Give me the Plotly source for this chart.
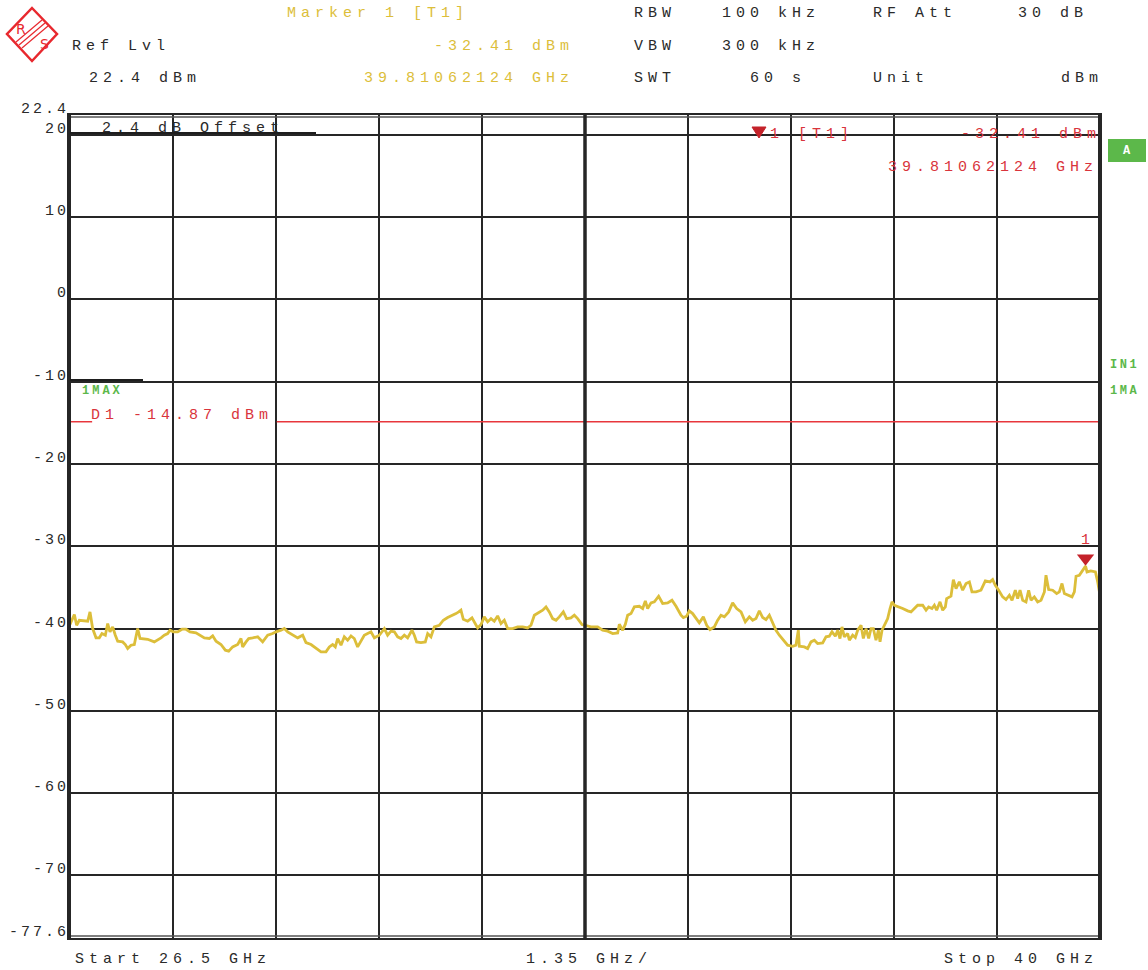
import plotly.graph_objects as go

# canvas / plot-area geometry (pixels)
W, H = 1148, 970
L, R, T, B = 70, 48, 115, 32
PW, PH = W - L - R, H - T - B

F_START, F_STOP = 26.5, 40.0
F_DIV = 1.35
REF_TOP, REF_BOTTOM = 22.4, -77.6

# trace 1 (max hold)
freq_ghz = [
    26.500, 26.557, 26.587, 26.622, 26.732, 26.762, 26.797, 26.841, 26.884, 26.919,
    26.963, 26.994, 27.024, 27.059, 27.094, 27.125, 27.190, 27.225, 27.256, 27.299,
    27.343, 27.387, 27.418, 27.518, 27.605, 27.649, 27.693, 27.736, 27.780, 27.811,
    27.854, 27.911, 27.968, 28.020, 28.073, 28.151, 28.217, 28.261, 28.326, 28.370,
    28.414, 28.479, 28.536, 28.580, 28.632, 28.698, 28.741, 28.763, 28.807, 28.842,
    28.894, 28.960, 29.025, 29.091, 29.156, 29.200, 29.266, 29.309, 29.353, 29.418,
    29.484, 29.550, 29.593, 29.659, 29.724, 29.790, 29.855,
    29.899, 29.942, 29.977, 30.008, 30.052, 30.095, 30.139, 30.183, 30.226, 30.270,
    30.314, 30.357, 30.401, 30.445, 30.489, 30.554, 30.620, 30.663, 30.707, 30.751,
    30.794, 30.838, 30.882, 30.925, 30.982, 31.013, 31.043, 31.100, 31.157, 31.188,
    31.231, 31.275, 31.340, 31.393, 31.450, 31.506, 31.559, 31.594, 31.624, 31.655,
    31.712, 31.769, 31.812, 31.843, 31.887, 31.930, 31.974, 32.018, 32.061, 32.105,
    32.149, 32.192, 32.236, 32.302, 32.367, 32.433, 32.498, 32.542, 32.586, 32.651,
    32.695, 32.739, 32.782, 32.826, 32.870, 32.913, 32.966, 33.009, 33.066, 33.110,
    33.154, 33.210, 33.263,
    33.329, 33.416, 33.481, 33.547, 33.613, 33.678, 33.700, 33.744, 33.779, 33.809,
    33.853, 33.897, 33.962, 34.006, 34.041, 34.071, 34.115, 34.159, 34.215, 34.268,
    34.333, 34.390, 34.443, 34.508, 34.539, 34.582, 34.617, 34.661, 34.705, 34.748,
    34.801, 34.845, 34.888, 34.945, 34.989, 35.032, 35.076, 35.133, 35.185, 35.238,
    35.295, 35.351, 35.404, 35.448, 35.491, 35.535, 35.579, 35.622, 35.666, 35.701,
    35.753, 35.797, 35.863, 35.906, 35.972, 36.015, 36.046, 36.059, 36.125, 36.168,
    36.212, 36.256, 36.299, 36.365, 36.409, 36.452, 36.487, 36.531, 36.562, 36.592,
    36.618, 36.649, 36.693,
    36.715, 36.758, 36.793, 36.824, 36.868, 36.898, 36.933, 36.968, 36.999, 37.029,
    37.064, 37.095, 37.117, 37.143, 37.187, 37.217, 37.248, 37.274, 37.305, 37.370,
    37.414, 37.479, 37.523, 37.567, 37.610, 37.676, 37.720, 37.754, 37.798, 37.829,
    37.859, 37.903, 37.938, 37.973, 37.990, 38.047, 38.078, 38.113, 38.156, 38.200,
    38.244, 38.288, 38.322, 38.375, 38.440, 38.497, 38.558, 38.593, 38.628, 38.672,
    38.724, 38.768, 38.812, 38.847, 38.890, 38.921, 38.952, 38.987, 39.030, 39.065,
    39.096, 39.139, 39.183, 39.227, 39.271, 39.292, 39.327, 39.380, 39.432, 39.467,
    39.502, 39.533, 39.576, 39.633, 39.664, 39.686, 39.729, 39.8106, 39.830, 39.880,
    39.940, 39.970, 40.000,
]
level_dbm = [
    -39.51, -38.30, -39.60, -38.99, -39.11, -37.98, -40.00, -41.13, -41.13, -40.61,
    -40.81, -39.39, -40.40, -39.80, -40.81, -41.54, -41.62, -41.94, -42.43, -42.02,
    -41.94, -40.00, -41.21, -41.30, -41.62, -41.42, -41.13, -40.81, -40.61, -40.20,
    -40.40, -40.40, -40.08, -40.08, -40.40, -40.53, -40.89, -41.13, -41.21, -40.89,
    -41.54, -41.94, -42.63, -42.75, -42.23, -41.94, -41.21, -42.23, -41.62, -41.21,
    -41.13, -41.01, -41.62, -40.81, -40.61, -40.40, -40.20, -40.00, -40.40, -40.81,
    -41.13, -40.81, -41.70, -41.94, -42.43, -42.83, -42.83,
    -42.23, -41.94, -42.23, -41.21, -42.02, -41.01, -41.42, -40.89, -41.21, -42.23,
    -41.42, -40.81, -40.61, -40.40, -41.13, -40.81, -40.00, -40.81, -40.32, -40.40,
    -41.01, -41.21, -40.81, -41.13, -40.20, -40.81, -41.62, -41.70, -41.62, -40.61,
    -41.01, -39.80, -39.60, -38.99, -38.66, -38.46, -38.18, -37.98, -37.77, -38.87,
    -39.11, -38.70, -39.39, -39.92, -39.51, -38.58, -39.19, -38.79, -39.11, -38.46,
    -39.39, -38.99, -40.00, -40.00, -39.80, -39.80, -39.92, -39.60, -38.38, -37.98,
    -37.77, -37.37, -37.98, -38.79, -38.99, -38.58, -37.98, -38.79, -38.70, -38.38,
    -38.79, -39.51, -39.68,
    -39.80, -39.80, -40.20, -40.32, -40.61, -40.53, -39.47, -40.20, -39.47, -38.38,
    -38.18, -37.37, -37.29, -37.57, -36.64, -37.57, -36.88, -36.76, -36.07, -36.96,
    -36.88, -36.56, -37.29, -38.38, -38.66, -38.50, -37.85, -38.18, -38.79, -39.31,
    -38.58, -39.60, -40.12, -39.80, -38.99, -38.38, -38.58, -37.98, -36.88, -37.57,
    -37.98, -39.19, -38.58, -38.99, -38.79, -37.85, -38.66, -38.91, -38.38, -39.19,
    -40.20, -40.81, -41.54, -42.02, -42.15, -42.02, -40.20, -42.15, -42.23, -42.43,
    -41.62, -41.42, -41.82, -41.74, -41.01, -40.93, -40.40, -40.93, -40.20, -41.21,
    -39.80, -41.01, -40.61,
    -41.42, -40.81, -41.09, -40.20, -39.60, -41.21, -40.00, -41.21, -40.00, -40.00,
    -41.42, -40.20, -41.62, -40.20, -39.39, -38.79, -37.57, -36.76, -37.17, -37.37,
    -37.57, -37.85, -37.98, -37.57, -37.17, -37.17, -37.77, -37.37, -37.57, -37.17,
    -37.77, -36.76, -37.77, -37.37, -36.36, -36.07, -34.05, -35.14, -34.33, -35.34,
    -34.53, -34.33, -35.55, -35.55, -35.34, -34.21, -34.33, -34.05, -34.74, -35.34,
    -36.15, -36.48, -35.95, -36.56, -35.34, -36.36, -35.34, -36.56, -36.76, -35.34,
    -36.56, -36.15, -36.76, -36.56, -35.55, -33.52, -35.26, -35.34, -35.75, -35.55,
    -34.53, -35.75, -35.95, -36.15, -35.55, -33.64, -33.52, -32.41, -33.12, -33.00,
    -33.12, -34.33, -35.95,
]

marker_freq = 39.81062124
marker_level = -32.41
display_line = -14.87

y_grid = [20, 10, 0, -10, -20, -30, -40, -50, -60, -70]
y_tick_vals = [22.4, 20, 10, 0, -10, -20, -30, -40, -50, -60, -70, -77.6]
y_tick_text = ["22.4", "20", "10", "0", "-10", "-20", "-30", "-40", "-50", "-60", "-70", "-77.6"]

FONT = "Liberation Mono"
INK = "#2a2a2a"
YEL = "#dcbe3a"
RED = "#d9343c"
RED_LINE = "#e8363c"
GRN = "#5cb84a"
GRID = "#262626"


def px(x):
    return (x - L) / PW


def py(y):
    return (H - B - y) / PH


def sp(txt, ls):
    return f'<span style="letter-spacing:{ls}px">{txt}</span>'


fig = go.Figure()


def label(txt, x, y, color=INK, size=15, anchor="left", ls=5.0, bold=False):
    t = sp(txt, ls)
    if bold:
        t = f"<b>{t}</b>"
    fig.add_annotation(text=t, x=px(x), y=py(y), xref="paper", yref="paper",
                       xanchor=anchor, yanchor="middle", showarrow=False,
                       xshift=ls if anchor == "right" else 0,
                       font=dict(family=FONT, size=size, color=color))


def seg(x0, y0, x1, y1, color=GRID, width=2):
    fig.add_shape(type="line", xref="paper", yref="paper",
                  x0=px(x0), y0=py(y0), x1=px(x1), y1=py(y1),
                  line=dict(color=color, width=width), layer="above")


# ---- trace
fig.add_trace(go.Scatter(x=freq_ghz, y=level_dbm, mode="lines",
                         line=dict(color=YEL, width=2.8), showlegend=False,
                         hoverinfo="x+y"))

# display line D1, broken where its label sits
fig.add_shape(type="line", xref="x", yref="y", x0=F_START, x1=26.79,
              y0=display_line, y1=display_line, line=dict(color=RED_LINE, width=1.5))
fig.add_shape(type="line", xref="x", yref="y", x0=29.21, x1=F_STOP,
              y0=display_line, y1=display_line, line=dict(color=RED_LINE, width=1.5))

# marker 1
fig.add_trace(go.Scatter(x=[marker_freq], y=[marker_level + 0.95], mode="markers+text",
                         marker=dict(symbol="triangle-down", size=15, color="#c4222a"),
                         text=["1"], textposition="top center",
                         textfont=dict(family=FONT, size=15, color=RED),
                         showlegend=False, hoverinfo="skip"))

# ---- frame details
seg(L, T - 1, L + PW + 2, T - 1, width=2)
seg(L, T + 2, L + PW, T + 2, color="#555", width=1.5)
seg(L, H - B + 1, L + PW + 2, H - B + 1, width=2)
seg(L, H - B - 2, L + PW, H - B - 2, color="#555", width=1.5)
seg(L - 1, T - 2, L - 1, H - B + 2, width=4)
seg(L + PW, T - 2, L + PW, H - B + 2, width=4)
seg(L + PW / 2, T, L + PW / 2, H - B, width=3.5)
seg(L, 133, 316, 133, color="#1e1e1e", width=2)
seg(L, 380, 143, 380, color="#1e1e1e", width=2)

# ---- header
label("Marker 1 [T1]", 285, 13, color=YEL)
label("-32.41 dBm", 571, 46, color=YEL, anchor="right")
label("39.81062124 GHz", 571, 79, color=YEL, anchor="right")
label("Ref Lvl", 70, 46)
label("22.4 dBm", 87, 79)
label("RBW", 632, 13)
label("100 kHz", 720, 13)
label("RF Att", 871, 13)
label("30 dB", 1085, 13, anchor="right")
label("VBW", 632, 46)
label("300 kHz", 720, 46)
label("SWT", 632, 79)
label("60 s", 748, 79)
label("Unit", 871, 79)
label("dBm", 1100, 79, anchor="right")

# ---- in-screen annotations
label("2.4 dB Offset", 100, 129)
fig.add_shape(type="path", xref="paper", yref="paper",
              path=f"M {px(752)} {py(127)} L {px(766)} {py(127)} L {px(759)} {py(138)} Z",
              fillcolor="#c4222a", line=dict(color="#c4222a", width=1))
label("1 [T1]", 768, 135, color=RED)
label("-32.41 dBm", 1098, 135, color=RED, anchor="right")
label("39.81062124 GHz", 1095, 168, color=RED, anchor="right")
label("D1 -14.87 dBm", 89, 415, color=RED)
label("1MAX", 80, 391, color=GRN, size=12, ls=3, bold=True)

# right side status
fig.add_shape(type="rect", xref="paper", yref="paper",
              x0=px(1108), x1=px(1146), y0=py(139), y1=py(162),
              fillcolor=GRN, line=dict(width=0))
fig.add_annotation(text="<b>A</b>", x=px(1127), y=py(150.5), xref="paper", yref="paper",
                   xanchor="center", yanchor="middle",
                   showarrow=False, font=dict(family=FONT, size=12, color="white"))
label("IN1", 1108, 365, color=GRN, size=12, ls=2.6, bold=True)
label("1MA", 1108, 391, color=GRN, size=12, ls=2.6, bold=True)

# ---- y tick labels (sit on their grid line)
for v, t in zip(y_tick_vals, y_tick_text):
    fig.add_annotation(text=sp(t, 3.0), x=0, xref="paper", y=v, yref="y",
                       xanchor="right", yanchor="bottom", xshift=1, yshift=-5,
                       showarrow=False, font=dict(family=FONT, size=15, color=INK))

# ---- bottom
label("Start 26.5 GHz", 73, 959)
label(f"{F_DIV} GHz/", 524, 959)
label("Stop 40 GHz", 1095, 959, anchor="right")

# ---- R&S logo
LR = "#e8282e"
fig.add_shape(type="path", xref="paper", yref="paper",
              path=(f"M {px(32)} {py(8)} L {px(57)} {py(34)} L {px(32)} {py(61)} "
                    f"L {px(7)} {py(34)} Z"),
              line=dict(color=LR, width=2.5))
for d in (-3, 0, 3):
    seg(19 + d, 45 + d, 45 + d, 23 + d, color=LR, width=1.2)
fig.add_annotation(text="R", x=px(21), y=py(29), xref="paper", yref="paper",
                   xanchor="center", yanchor="middle",
                   showarrow=False, font=dict(family="DejaVu Sans", size=14, color=LR))
fig.add_annotation(text="S", x=px(44), y=py(44), xref="paper", yref="paper",
                   xanchor="center", yanchor="middle",
                   showarrow=False, font=dict(family="DejaVu Sans", size=14, color=LR))

fig.update_layout(
    width=W, height=H,
    margin=dict(l=L, r=R, t=T, b=B),
    paper_bgcolor="white", plot_bgcolor="white",
    showlegend=False,
    font=dict(family=FONT, color=INK),
)
fig.update_xaxes(range=[F_START, F_STOP], tick0=F_START, dtick=F_DIV,
                 showgrid=True, gridcolor=GRID, gridwidth=1.6,
                 showticklabels=False, ticks="", zeroline=False, showline=False)
fig.update_yaxes(range=[REF_BOTTOM, REF_TOP], tickmode="array", tickvals=y_grid,
                 showgrid=True, gridcolor=GRID, gridwidth=1.6,
                 showticklabels=False, ticks="", zeroline=False, showline=False)

# page body has a default 8px margin; drop it so the figure fills the window
fig.write_html("out.html", config={"displayModeBar": False},
               post_script="document.body.style.margin='0';document.body.style.overflow='hidden';")
